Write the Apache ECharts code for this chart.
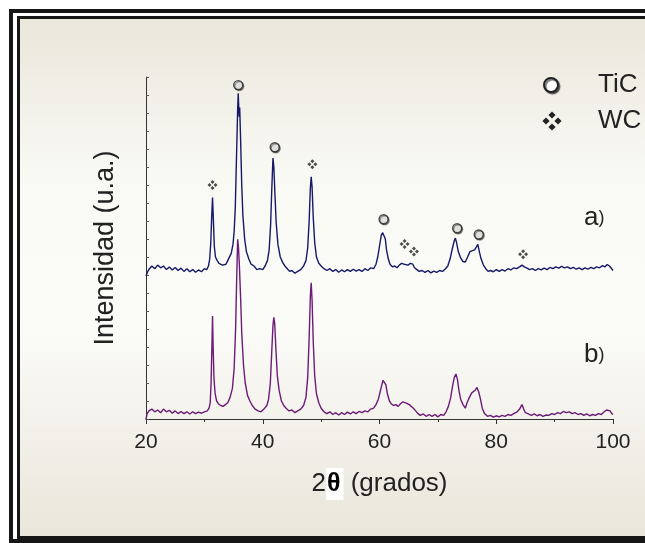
<!DOCTYPE html>
<html>
<head>
<meta charset="utf-8">
<script src="https://cdn.jsdelivr.net/npm/echarts@6/dist/echarts.min.js"></script>
<style>
  html, body { margin: 0; padding: 0; background: #fff; }
  #xrdChart { width: 645px; height: 543px; }
</style>
</head>
<body>
<div id="xrdChart"></div>
<script>
var traceA = [
  [20.0, 7.95], [20.3, 8.2], [20.6, 8.35], [21.0, 8.5], [21.5, 8.35], [22.0, 8.55], [22.5, 8.4],
  [23.0, 8.5], [23.5, 8.3], [24.0, 8.45], [24.5, 8.28], [25.0, 8.42], [25.5, 8.25], [26.0, 8.38],
  [26.5, 8.2], [27.0, 8.35], [27.5, 8.18], [28.0, 8.3], [28.5, 8.15], [29.0, 8.28], [29.5, 8.18],
  [30.0, 8.35], [30.4, 8.3], [30.7, 8.5], [30.9, 8.85], [31.1, 9.8], [31.25, 11.2], [31.4, 12.3],
  [31.55, 11.0], [31.7, 9.6], [31.9, 9.0], [32.2, 8.8], [32.5, 8.65], [32.8, 8.75], [33.1, 8.55],
  [33.4, 8.65], [33.7, 8.6], [34.0, 8.8], [34.3, 8.9], [34.6, 9.2], [34.9, 9.7], [35.1, 10.4],
  [35.3, 11.8], [35.5, 14.5], [35.7, 17.2], [35.8, 18.1], [35.95, 16.8], [36.05, 17.3], [36.2, 15.6],
  [36.4, 13.0], [36.6, 11.3], [36.9, 10.0], [37.2, 9.3], [37.6, 8.9], [38.0, 8.6], [38.5, 8.5],
  [39.0, 8.3], [39.5, 8.35], [40.0, 8.3], [40.4, 8.5], [40.8, 8.8], [41.1, 9.4], [41.35, 10.8],
  [41.55, 12.8], [41.75, 14.5], [41.9, 14.0], [42.1, 12.4], [42.3, 10.9], [42.6, 9.7], [43.0, 9.0],
  [43.4, 8.7], [43.8, 8.5], [44.2, 8.35], [44.6, 8.2], [45.0, 8.25], [45.5, 8.1], [46.0, 8.2],
  [46.5, 8.3], [47.0, 8.5], [47.4, 8.8], [47.7, 9.5], [47.95, 11.0], [48.15, 12.8], [48.3, 13.45],
  [48.45, 12.9], [48.65, 11.2], [48.9, 9.8], [49.2, 9.0], [49.6, 8.65], [50.0, 8.5], [50.5, 8.35],
  [51.0, 8.25], [51.5, 8.35], [52.0, 8.2], [52.5, 8.3], [53.0, 8.15], [53.5, 8.28], [54.0, 8.18],
  [54.5, 8.3], [55.0, 8.2], [55.5, 8.32], [56.0, 8.22], [56.5, 8.3], [57.0, 8.2], [57.5, 8.35],
  [58.0, 8.25], [58.5, 8.4], [59.0, 8.35], [59.4, 8.6], [59.7, 9.0], [60.0, 9.6], [60.3, 10.2],
  [60.55, 10.35], [60.75, 10.4], [61.0, 10.0], [61.2, 9.4], [61.5, 8.9], [61.8, 8.6], [62.2, 8.45],
  [62.6, 8.5], [63.0, 8.4], [63.4, 8.55], [63.8, 8.65], [64.2, 8.6], [64.5, 8.7], [64.9, 8.55],
  [65.3, 8.65], [65.7, 8.6], [66.0, 8.4], [66.4, 8.3], [66.8, 8.2], [67.3, 8.25], [67.8, 8.15],
  [68.3, 8.25], [68.8, 8.12], [69.3, 8.22], [69.8, 8.15], [70.3, 8.25], [70.8, 8.2], [71.3, 8.35],
  [71.7, 8.5], [72.1, 8.9], [72.5, 9.5], [72.8, 9.9], [73.0, 10.05], [73.2, 9.8], [73.5, 9.3],
  [73.9, 8.95], [74.3, 8.75], [74.7, 8.72], [75.1, 9.0], [75.5, 9.3], [75.9, 9.35], [76.3, 9.4],
  [76.6, 9.45], [76.85, 9.7], [77.1, 9.3], [77.4, 8.9], [77.8, 8.55], [78.2, 8.35], [78.6, 8.2],
  [79.0, 8.25], [79.5, 8.18], [80.0, 8.3], [80.5, 8.2], [81.0, 8.3], [81.5, 8.22], [82.0, 8.35],
  [82.5, 8.28], [83.0, 8.4], [83.5, 8.35], [84.0, 8.45], [84.4, 8.55], [84.8, 8.45], [85.2, 8.4],
  [85.7, 8.3], [86.2, 8.35], [86.7, 8.25], [87.2, 8.35], [87.7, 8.28], [88.2, 8.38], [88.7, 8.3],
  [89.2, 8.42], [89.7, 8.35], [90.2, 8.45], [90.7, 8.38], [91.2, 8.48], [91.7, 8.4], [92.2, 8.45],
  [92.7, 8.35], [93.2, 8.42], [93.7, 8.32], [94.2, 8.4], [94.7, 8.3], [95.2, 8.4], [95.7, 8.32],
  [96.2, 8.42], [96.7, 8.35], [97.2, 8.45], [97.7, 8.4], [98.2, 8.52], [98.6, 8.45], [99.0, 8.58],
  [99.4, 8.5], [99.7, 8.4], [100.0, 8.25]
];

var traceB = [
  [20.0, 0.0], [20.2, 0.3], [20.5, 0.45], [21.0, 0.55], [21.5, 0.4], [22.0, 0.5], [22.5, 0.35],
  [23.0, 0.55], [23.5, 0.4], [24.0, 0.48], [24.5, 0.32], [25.0, 0.45], [25.5, 0.3], [26.0, 0.42],
  [26.5, 0.3], [27.0, 0.4], [27.5, 0.28], [28.0, 0.4], [28.5, 0.3], [29.0, 0.38], [29.5, 0.32],
  [30.0, 0.4], [30.5, 0.45], [30.8, 0.6], [31.0, 0.9], [31.15, 2.0], [31.3, 4.2], [31.4, 5.72],
  [31.5, 4.0], [31.65, 2.2], [31.85, 1.4], [32.1, 1.0], [32.4, 0.85], [32.8, 0.75], [33.2, 0.7],
  [33.6, 0.8], [34.0, 0.9], [34.4, 1.2], [34.8, 1.7], [35.1, 2.8], [35.35, 5.0], [35.55, 8.0],
  [35.7, 9.98], [35.85, 9.5], [36.0, 8.5], [36.2, 6.8], [36.4, 4.8], [36.7, 3.0], [37.0, 2.0],
  [37.4, 1.3], [37.8, 1.0], [38.2, 0.75], [38.7, 0.55], [39.2, 0.45], [39.7, 0.4], [40.2, 0.55],
  [40.7, 0.75], [41.0, 1.1], [41.3, 2.0], [41.55, 3.8], [41.75, 5.2], [41.9, 5.65], [42.05, 5.3],
  [42.25, 3.9], [42.5, 2.4], [42.8, 1.6], [43.2, 1.0], [43.6, 0.75], [44.0, 0.6], [44.5, 0.45],
  [45.0, 0.5], [45.5, 0.35], [46.0, 0.45], [46.5, 0.55], [47.0, 0.75], [47.4, 1.2], [47.7, 2.3],
  [47.95, 4.5], [48.15, 6.8], [48.3, 7.57], [48.45, 6.6], [48.65, 4.3], [48.9, 2.4], [49.2, 1.4],
  [49.6, 0.9], [50.0, 0.6], [50.5, 0.4], [51.0, 0.3], [51.5, 0.4], [52.0, 0.25], [52.5, 0.35],
  [53.0, 0.22], [53.5, 0.35], [54.0, 0.25], [54.5, 0.38], [55.0, 0.28], [55.5, 0.4], [56.0, 0.3],
  [56.5, 0.42], [57.0, 0.35], [57.5, 0.45], [58.0, 0.4], [58.5, 0.55], [59.0, 0.6], [59.4, 0.8],
  [59.8, 1.1], [60.1, 1.5], [60.4, 1.9], [60.6, 2.15], [60.85, 2.26], [61.1, 1.9], [61.35, 1.4],
  [61.7, 1.0], [62.0, 0.85], [62.4, 0.75], [62.8, 0.8], [63.2, 0.7], [63.6, 0.85], [64.0, 0.95],
  [64.2, 1.05], [64.5, 0.9], [64.8, 1.0], [65.1, 0.8], [65.4, 0.85], [65.8, 0.6], [66.2, 0.45],
  [66.6, 0.3], [67.0, 0.2], [67.5, 0.28], [68.0, 0.15], [68.5, 0.25], [69.0, 0.15], [69.5, 0.25],
  [70.0, 0.12], [70.5, 0.25], [71.0, 0.2], [71.4, 0.4], [71.8, 0.7], [72.2, 1.2], [72.5, 1.8],
  [72.8, 2.3], [73.1, 2.5], [73.35, 2.2], [73.6, 1.6], [73.9, 1.1], [74.3, 0.8], [74.7, 0.6],
  [75.0, 0.9], [75.4, 1.2], [75.8, 1.45], [76.1, 1.35], [76.4, 1.6], [76.7, 1.75], [77.0, 1.5],
  [77.3, 1.1], [77.6, 0.6], [78.0, 0.3], [78.5, 0.15], [79.0, 0.2], [79.5, 0.1], [80.0, 0.18],
  [80.5, 0.12], [81.0, 0.2], [81.5, 0.15], [82.0, 0.25], [82.5, 0.2], [83.0, 0.3], [83.5, 0.38],
  [84.0, 0.55], [84.4, 0.8], [84.7, 0.55], [85.0, 0.35], [85.5, 0.28], [86.0, 0.2], [86.5, 0.28],
  [87.0, 0.18], [87.5, 0.25], [88.0, 0.15], [88.5, 0.22], [89.0, 0.2], [89.5, 0.3], [90.0, 0.25],
  [90.5, 0.35], [91.0, 0.3], [91.5, 0.42], [92.0, 0.35], [92.5, 0.4], [93.0, 0.3], [93.5, 0.35],
  [94.0, 0.25], [94.5, 0.3], [95.0, 0.2], [95.5, 0.28], [96.0, 0.18], [96.5, 0.25], [97.0, 0.2],
  [97.5, 0.3], [98.0, 0.25], [98.5, 0.4], [98.9, 0.5], [99.2, 0.4], [99.5, 0.45], [99.8, 0.3],
  [100.0, 0.25]
];

// marcas de fases sobre el patron a)
var ticMarks = [[35.8, 18.55], [42.05, 15.1], [60.7, 11.1], [73.3, 10.6], [77.0, 10.25]];
var wcMarks = [[31.4, 13.0], [48.5, 14.15], [64.3, 9.72], [65.9, 9.3], [84.6, 9.15]];

var wcPath = "path://M10,0L14,4L10,8L6,4Z M4,6L8,10L4,14L0,10Z M16,6L20,10L16,14L12,10Z M10,12L14,16L10,20L6,16Z";
var txt = "#222";
var font = "Liberation Sans, Arial, sans-serif";

// simbolo WC de la leyenda: cuatro rombos
function diamond(cx, cy, r) {
  return { type: "polygon", z: 50, shape: { points: [[cx, cy - r], [cx + r, cy], [cx, cy + r], [cx - r, cy]] }, style: { fill: "#222" } };
}

var myChart = echarts.init(document.getElementById("xrdChart"));
var option = {
  animation: false,
  grid: { left: 146, right: 32, top: 77, bottom: 124 },
  xAxis: {
    type: "value",
    min: 20,
    max: 100,
    interval: 20,
    name: "2{t|θ} (grados)",
    nameLocation: "middle",
    nameGap: 49,
    nameTextStyle: {
      fontSize: 26, color: txt, fontFamily: font,
      rich: { t: { fontSize: 25, color: "#000", fontWeight: "bold", backgroundColor: "#fff", padding: [4, 3, 3, 1], fontFamily: font } }
    },
    axisLine: { lineStyle: { color: "#333", width: 1 } },
    axisTick: { show: true, length: 5, lineStyle: { color: "#333" } },
    minorTick: { show: true, splitNumber: 2, length: 3, lineStyle: { color: "#333" } },
    axisLabel: { fontSize: 21, color: txt, margin: 13, fontFamily: font },
    splitLine: { show: false }
  },
  yAxis: {
    type: "value",
    min: 0,
    max: 19,
    interval: 1,
    name: "Intensidad (u.a.)",
    nameLocation: "middle",
    nameGap: 27,
    nameTextStyle: { fontSize: 27, color: txt, fontFamily: font },
    axisLine: { show: true, lineStyle: { color: "#333", width: 1 } },
    axisTick: { show: true, inside: true, length: 3, lineStyle: { color: "#555" } },
    axisLabel: { show: false },
    splitLine: { show: false }
  },
  graphic: [
    { type: "rect", z: -10, shape: { x: 11, y: 11, width: 700, height: 530 },
      style: { fill: "none", stroke: "#161616", lineWidth: 4 } },
    { type: "rect", z: -9, shape: { x: 18.5, y: 17.5, width: 700, height: 520 },
      style: {
        stroke: "#161616", lineWidth: 3,
        fill: new echarts.graphic.LinearGradient(0, 0, 0, 1, [
          { offset: 0, color: "#e9e6da" },
          { offset: 0.3, color: "#f9f9f4" },
          { offset: 0.6, color: "#fbfbf8" },
          { offset: 1, color: "#e9e6da" }
        ])
      } },
    { type: "circle", z: 50, shape: { cx: 551, cy: 85, r: 7 },
      style: { fill: "#fff", stroke: "#222", lineWidth: 2, shadowColor: "rgba(0,0,0,0.55)", shadowOffsetX: 1.5, shadowOffsetY: 1.5, shadowBlur: 1 } },
    { type: "text", z: 50, style: { x: 598, y: 85, text: "TiC", fontSize: 26, fill: txt, fontFamily: font, verticalAlign: "middle" } },
    diamond(552, 115, 3.6), diamond(546, 121, 3.6), diamond(558, 121, 3.6), diamond(552, 127, 3.6),
    { type: "text", z: 50, style: { x: 598, y: 121, text: "WC", fontSize: 26, fill: txt, fontFamily: font, verticalAlign: "middle" } },
    { type: "text", z: 50, style: { x: 584, y: 218, text: "{a|a}{p|)}", fill: txt, verticalAlign: "middle",
        rich: { a: { fontSize: 26, fontFamily: font, fill: txt }, p: { fontSize: 18, fontFamily: font, fill: txt } } } },
    { type: "text", z: 50, style: { x: 584, y: 355, text: "{a|b}{p|)}", fill: txt, verticalAlign: "middle",
        rich: { a: { fontSize: 26, fontFamily: font, fill: txt }, p: { fontSize: 18, fontFamily: font, fill: txt } } } }
  ],
  series: [
    {
      name: "b)",
      type: "line",
      data: traceB,
      showSymbol: false,
      lineStyle: { color: "#6c1b77", width: 1.4 },
      z: 3
    },
    {
      name: "a)",
      type: "line",
      data: traceA,
      showSymbol: false,
      lineStyle: { color: "#141a68", width: 1.4 },
      z: 4
    },
    {
      name: "TiC",
      type: "scatter",
      data: ticMarks,
      symbol: "circle",
      symbolSize: 9,
      itemStyle: { color: "#f2f2f2", borderColor: "#222", borderWidth: 1.4, shadowColor: "rgba(0,0,0,0.5)", shadowOffsetX: 1, shadowOffsetY: 1 },
      z: 5
    },
    {
      name: "WC",
      type: "scatter",
      data: wcMarks,
      symbol: wcPath,
      symbolSize: 10,
      itemStyle: { color: "#222" },
      z: 5
    }
  ]
};
myChart.setOption(option);
</script>
</body>
</html>
